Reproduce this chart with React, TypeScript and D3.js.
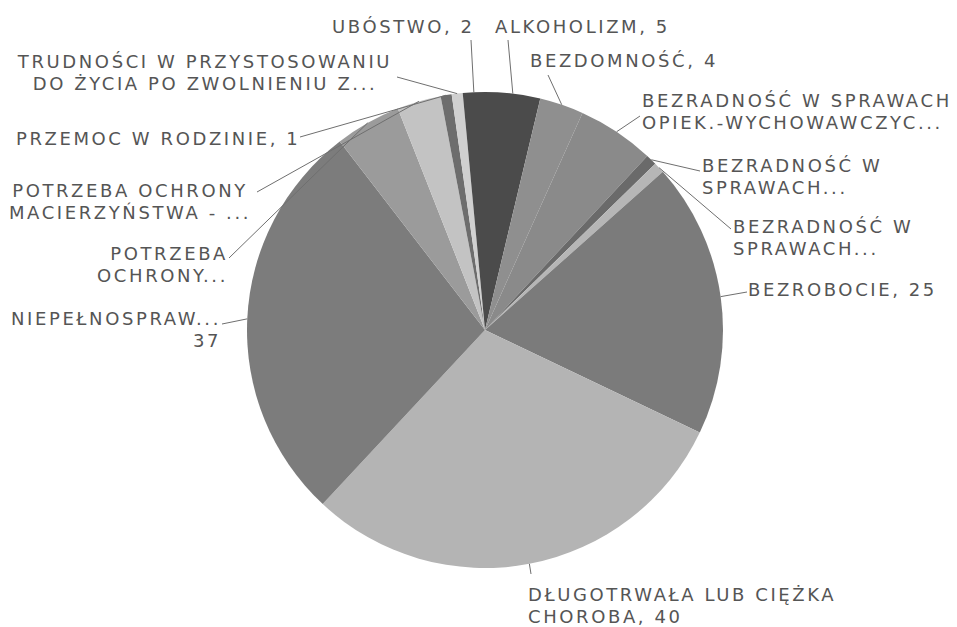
import React from 'react';
import * as d3 from 'd3';

// Categories in the order Excel draws them, clockwise from 12 o'clock.
const categories = [
  'ALKOHOLIZM',
  'BEZDOMNOŚĆ',
  'BEZRADNOŚĆ W SPRAWACH OPIEK.-WYCHOWAWCZYCH',
  'BEZRADNOŚĆ W SPRAWACH PROWADZENIA GOSPODARSTWA',
  'BEZRADNOŚĆ W SPRAWACH RODZINY NIEPEŁNEJ',
  'BEZROBOCIE',
  'DŁUGOTRWAŁA LUB CIĘŻKA CHOROBA',
  'NIEPEŁNOSPRAWNOŚĆ',
  'POTRZEBA OCHRONY MACIERZYŃSTWA',
  'POTRZEBA OCHRONY MACIERZYŃSTWA - WIELODZIETNOŚĆ',
  'PRZEMOC W RODZINIE',
  'TRUDNOŚCI W PRZYSTOSOWANIU DO ŻYCIA PO ZWOLNIENIU Z ZAKŁADU KARNEGO',
  'UBÓSTWO',
];

const values = [5, 4, 7, 1, 1, 25, 40, 37, 6, 4, 1, 1, 2];

// Data labels as printed on the chart (Excel truncates the long ones).
const labelLines = [
  ['ALKOHOLIZM, 5'],
  ['BEZDOMNOŚĆ, 4'],
  ['BEZRADNOŚĆ W SPRAWACH', 'OPIEK.-WYCHOWAWCZYC...'],
  ['BEZRADNOŚĆ W', 'SPRAWACH...'],
  ['BEZRADNOŚĆ W', 'SPRAWACH...'],
  ['BEZROBOCIE, 25'],
  ['DŁUGOTRWAŁA LUB CIĘŻKA', 'CHOROBA, 40'],
  ['NIEPEŁNOSPRAW...', '37'],
  ['POTRZEBA', 'OCHRONY...'],
  ['POTRZEBA OCHRONY', 'MACIERZYŃSTWA - ...'],
  ['PRZEMOC W RODZINIE, 1'],
  ['TRUDNOŚCI W PRZYSTOSOWANIU', 'DO ŻYCIA PO ZWOLNIENIU Z...'],
  ['UBÓSTWO, 2'],
];

const sliceColors = [
  '#4b4b4b', '#8f8f8f', '#8a8a8a', '#6a6a6a', '#b6b6b6', '#7b7b7b', '#b4b4b4',
  '#7c7c7c', '#9b9b9b', '#c3c3c3', '#6d6d6d', '#d0d0d0', '#4b4b4b',
];

// where each label sits and where its leader line starts
const labelLayout = [
  { x: 495, y: 33, anchor: 'start', lead: [508, 40] },
  { x: 530, y: 67, anchor: 'start', lead: [548, 75] },
  { x: 642, y: 107, anchor: 'start', lead: [640, 116] },
  { x: 702, y: 172, anchor: 'start', lead: [700, 171] },
  { x: 733, y: 233, anchor: 'start', lead: [731, 229] },
  { x: 748, y: 296, anchor: 'start', lead: [747, 292] },
  { x: 528, y: 601, anchor: 'start', lead: [531, 574] },
  { x: 221, y: 325, anchor: 'end', lead: [222, 324] },
  { x: 228, y: 260, anchor: 'end', lead: [229, 258] },
  { x: 130, y: 197, anchor: 'middle', lead: [257, 192] },
  { x: 16, y: 145, anchor: 'start', lead: [300, 137] },
  { x: 205, y: 68, anchor: 'middle', lead: [397, 77] },
  { x: 332, y: 33, anchor: 'start', lead: [471, 40] },
];

const width = 957;
const height = 627;
const cx = 485;
const cy = 330;
const radius = 238;
const lineHeight = 21.5;

export default function App() {
  const data = categories.map((name, i) => ({ name, value: values[i], index: i }));
  const pie = d3.pie<any>().value((d) => d.value).sort(null);
  const arcs = pie(data);
  const arc = d3.arc<any>().innerRadius(0).outerRadius(radius);

  const edgePoint = (a: any) => {
    const angle = (a.startAngle + a.endAngle) / 2;
    return [Math.sin(angle) * radius, -Math.cos(angle) * radius];
  };

  return (
    <div style={{ position: 'absolute', left: 0, top: 0 }}>
      <svg width={width} height={height} style={{ display: 'block', background: '#fff' }}>
        <g transform={`translate(${cx},${cy})`}>
          {arcs.map((a) => (
            <path key={a.data.name} d={arc(a) || ''} fill={sliceColors[a.index]} />
          ))}
          {arcs.map((a) => {
            const [ex, ey] = edgePoint(a);
            const layout = labelLayout[a.index];
            return (
              <line
                key={`lead-${a.index}`}
                x1={layout.lead[0] - cx}
                y1={layout.lead[1] - cy}
                x2={ex}
                y2={ey}
                stroke="#6f6f6f"
                strokeWidth={1}
              />
            );
          })}
        </g>
        <g fontFamily="'DejaVu Sans', sans-serif" fontSize={18} fill="#555555" letterSpacing={2.6}>
          {labelLines.map((lines, i) => {
            const layout = labelLayout[i];
            return (
              <text key={`label-${i}`} x={layout.x} y={layout.y} textAnchor={layout.anchor}>
                {lines.map((line, j) => (
                  <tspan key={j} x={layout.x} dy={j === 0 ? 0 : lineHeight}>
                    {line}
                  </tspan>
                ))}
              </text>
            );
          })}
        </g>
      </svg>
    </div>
  );
}
